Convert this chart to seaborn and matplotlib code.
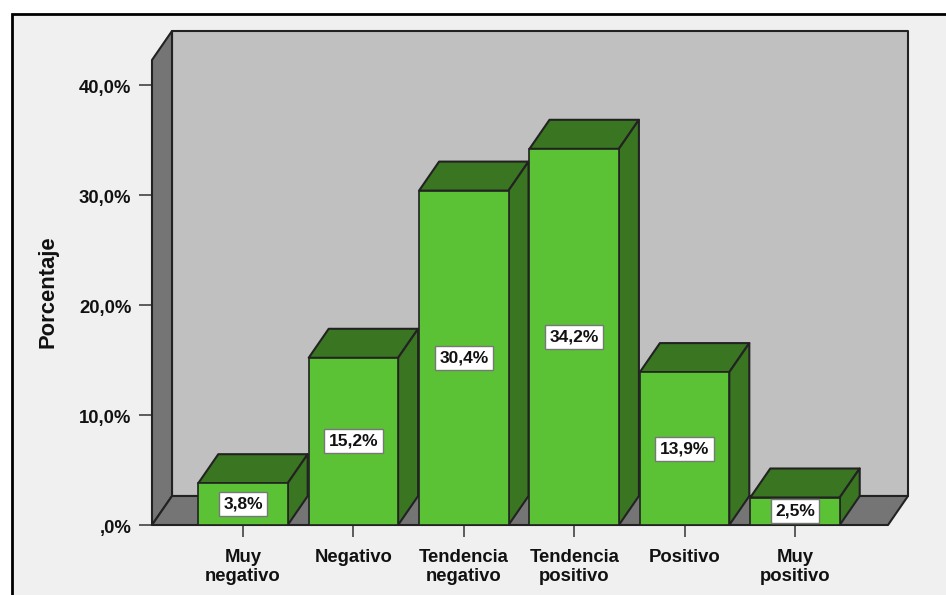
# %% biblioteke
import matplotlib
matplotlib.use('Agg')
import matplotlib.pyplot as plt
from matplotlib.patches import Polygon, Rectangle
from matplotlib.transforms import ScaledTranslation
import seaborn as sns

# %% podaci
categorias = ['Muy\nnegativo', 'Negativo', 'Tendencia\nnegativo',
              'Tendencia\npositivo', 'Positivo', 'Muy\npositivo']
porcentajes = [3.8, 15.2, 30.4, 34.2, 13.9, 2.5]
etiquetas = ['3,8%', '15,2%', '30,4%', '34,2%', '13,9%', '2,5%']
y_ticks = [0, 10, 20, 30, 40]
y_labels = [',0%', '10,0%', '20,0%', '30,0%', '40,0%']

# %% stil
W, H = 946, 595
VERDE = '#5bc236'
VERDE_OSCURO = '#3a7522'
GRIS_PARED = '#757575'
GRIS_FONDO = '#c0c0c0'
FONDO = '#f0f0f0'
LINEA = '#222222'

sns.set_theme(style='white')
plt.rcParams['font.family'] = ['Liberation Sans', 'DejaVu Sans']

fig = plt.figure(figsize=(W / 100, H / 100), dpi=100, facecolor='white')
fig.add_artist(Rectangle((11.5 / W, -0.02), 1, 1 - 14 / H + 0.02, transform=fig.transFigure,
                         facecolor=FONDO, edgecolor='black', linewidth=2, zorder=-1))

# prednja ravan grafika u pikselima: x 152-888, y 60-525
ax = fig.add_axes([152 / W, 1 - 525 / H, (888 - 152) / W, (525 - 60) / H])
ax.patch.set_alpha(0)

sns.barplot(x=categorias, y=porcentajes, color=VERDE, saturation=1, width=0.81,
            edgecolor=LINEA, linewidth=1.2, ax=ax, zorder=5)

paso_px = 110.4
ax.set_xlim((152 - 243) / paso_px, (888 - 243) / paso_px)
ax.set_ylim(0, (525 - 60) / 11)

# dubina 3D u jedinicama podataka
dx = 20 / paso_px
dy = 29 / 11
x0, x1 = ax.get_xlim()
y0, y1 = ax.get_ylim()


def cara(puntos, color, z):
    ax.add_patch(Polygon(puntos, closed=True, facecolor=color, edgecolor=LINEA,
                         linewidth=1.5, joinstyle='round', clip_on=False, zorder=z))


# zidovi i pod
cara([(x0 + dx, y0 + dy), (x0 + dx, y1 + dy), (x1 + dx, y1 + dy), (x1 + dx, y0 + dy)], GRIS_FONDO, 1)
cara([(x0, y0), (x0, y1), (x0 + dx, y1 + dy), (x0 + dx, y0 + dy)], GRIS_PARED, 2)
cara([(x0, y0), (x0 + dx, y0 + dy), (x1 + dx, y0 + dy), (x1, y0)], GRIS_PARED, 2)

# gornja i bocna strana svakog stubica
for barra in ax.containers[0]:
    xa, xb = barra.get_x(), barra.get_x() + barra.get_width()
    alto = barra.get_height()
    cara([(xa, alto), (xa + dx, alto + dy), (xb + dx, alto + dy), (xb, alto)], VERDE_OSCURO, 4)
    cara([(xb, 0), (xb, alto), (xb + dx, alto + dy), (xb + dx, dy)], VERDE_OSCURO, 4)

ax.bar_label(ax.containers[0], labels=etiquetas, label_type='center', fontsize=12.5,
             fontweight='bold', color='#111111', zorder=6,
             bbox=dict(boxstyle='square,pad=0.26', facecolor='white', edgecolor='#777777', linewidth=1))

# %% ose
sns.despine(ax=ax, left=True, bottom=True, top=True, right=True)
ax.set_yticks(y_ticks, y_labels)
ax.tick_params(axis='y', length=9.4, width=1.1, color='#333333', pad=5.5, left=True,
               labelsize=13.3, labelcolor='#111111')
ax.tick_params(axis='x', length=8.6, width=1.1, color='#333333', pad=8.5, bottom=True,
               labelsize=13.3, labelcolor='#111111')
pomak = ScaledTranslation(0, -1 / 100, fig.dpi_scale_trans)
for t in ax.get_yticklabels():
    t.set_fontweight('bold')
    t.set_transform(t.get_transform() + pomak)
for t in ax.get_xticklabels():
    t.set_fontweight('bold')
    t.set_linespacing(1.15)

ax.set_ylabel('')
fig.text(48 / W, 1 - 292 / H, 'Porcentaje', rotation=90, ha='center', va='center',
         fontsize=15.8, fontweight='bold', color='#111111')

plt.savefig('out.png', dpi=100)
